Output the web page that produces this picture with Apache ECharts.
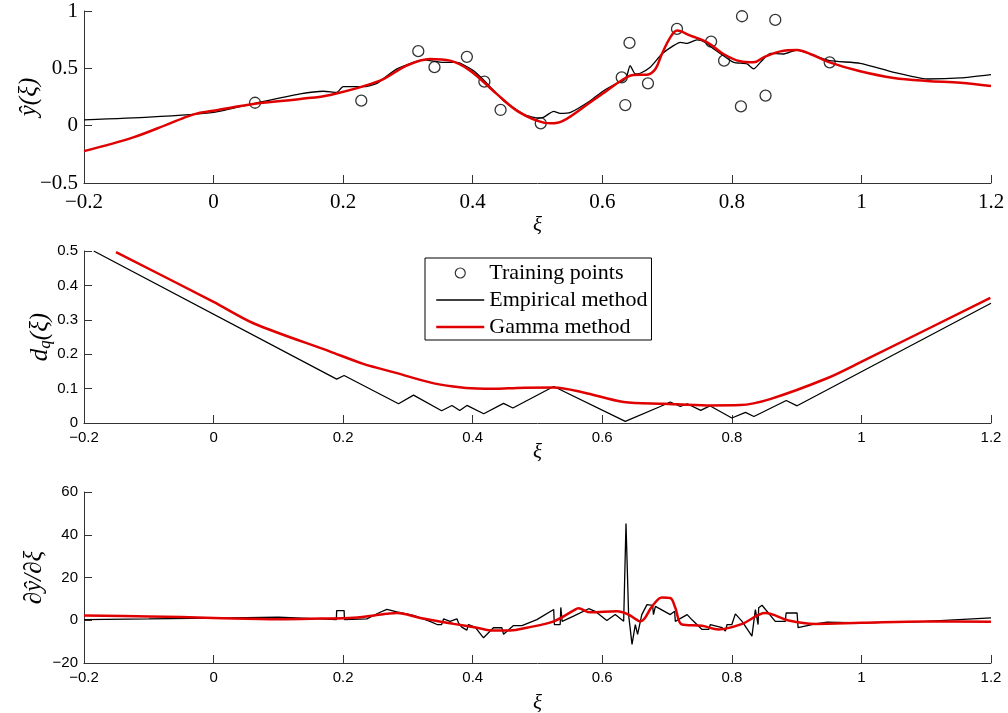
<!DOCTYPE html>
<html><head><meta charset="utf-8">
<script src="https://cdn.jsdelivr.net/npm/echarts@6/dist/echarts.min.js"></script>
<style>html,body{margin:0;padding:0;background:#fff}#c{width:1008px;height:713px}</style>
</head><body><div id="c"></div>
<script>
// ---- data ----
const xRange = [-0.2, 1.2];
const xInterval = 0.2;
const yRangeTop = [-0.5, 1];
const yRangeMid = [0, 0.5];
const yRangeBot = [-20, 60];

const trainingPoints = [
  [0.064,0.20],[0.228,0.218],[0.316,0.65],[0.341,0.51],[0.391,0.60],[0.418,0.384],
  [0.443,0.137],[0.505,0.02],[0.630,0.421],[0.642,0.722],[0.6355,0.18],[0.6705,0.369],
  [0.7153,0.844],[0.768,0.733],[0.788,0.567],[0.8157,0.954],[0.814,0.168],[0.852,0.262],
  [0.867,0.922],[0.951,0.552]
];

const empiricalY = [
  [-0.2,0.05],[-0.1,0.074],[0,0.116],[0.064,0.195],[0.1336,0.277],[0.17,0.30],[0.19,0.29],
  [0.2,0.34],[0.231,0.34],[0.252,0.369],[0.283,0.495],[0.324,0.573],[0.355,0.552],[0.3756,0.552],
  [0.401,0.48],[0.422,0.369],[0.4476,0.218],[0.478,0.102],[0.499,0.067],[0.509,0.072],[0.525,0.125],
  [0.535,0.107],[0.551,0.116],[0.5815,0.218],[0.602,0.305],[0.6227,0.369],[0.633,0.393],[0.638,0.436],
  [0.643,0.524],[0.651,0.451],[0.6587,0.457],[0.674,0.509],[0.692,0.625],[0.710,0.698],[0.7205,0.727],
  [0.731,0.718],[0.746,0.748],[0.759,0.727],[0.772,0.669],[0.787,0.611],[0.803,0.552],[0.8235,0.538],
  [0.8337,0.495],[0.844,0.552],[0.8595,0.631],[0.880,0.625],[0.9007,0.66],[0.921,0.625],[0.951,0.567],
  [0.998,0.544],[1.05,0.465],[1.1015,0.407],[1.153,0.416],[1.2,0.445]
];

const gammaY = [
  [-0.2,-0.222],[-0.124,-0.102],[-0.072,0.009],[-0.041,0.079],[-0.021,0.113],[0,0.131],[0.064,0.192],
  [0.134,0.233],[0.18,0.268],[0.257,0.393],[0.298,0.524],[0.334,0.582],[0.365,0.567],[0.396,0.48],
  [0.437,0.277],[0.468,0.131],[0.499,0.044],[0.52,0.02],[0.54,0.044],[0.5815,0.205],[0.607,0.305],
  [0.633,0.407],[0.648,0.442],[0.669,0.445],[0.682,0.495],[0.692,0.625],[0.705,0.77],[0.7155,0.829],
  [0.736,0.785],[0.762,0.727],[0.787,0.625],[0.813,0.561],[0.8337,0.552],[0.849,0.596],[0.875,0.648],
  [0.9007,0.66],[0.921,0.625],[0.951,0.552],[0.998,0.474],[1.05,0.416],[1.1015,0.39],[1.153,0.375],
  [1.2,0.346]
];

const empiricalD = [
  [-0.185,0.5],[0.19,0.1275],[0.2015,0.138],[0.2855,0.056],[0.3086,0.081],[0.352,0.0357],[0.368,0.051],
  [0.380,0.0365],[0.391,0.051],[0.417,0.027],[0.4476,0.057],[0.462,0.0435],[0.525,0.106],[0.6355,0.0047],
  [0.6896,0.048],[0.705,0.061],[0.7205,0.048],[0.731,0.056],[0.752,0.0366],[0.766,0.050],[0.800,0.0145],
  [0.821,0.031],[0.834,0.019],[0.884,0.0655],[0.9007,0.050],[1.2,0.348]
];

const gammaD = [
  [-0.1506,0.497],[0,0.352],[0.0615,0.29],[0.18,0.2075],[0.231,0.172],[0.283,0.145],[0.334,0.118],
  [0.37,0.106],[0.406,0.100],[0.437,0.0995],[0.468,0.102],[0.525,0.103],[0.571,0.0888],[0.633,0.061],
  [0.695,0.056],[0.7617,0.051],[0.813,0.052],[0.859,0.0695],[0.947,0.130],[0.998,0.176],[1.199,0.364]
];

const empiricalDeriv = [
  [-0.2,0.3],[-0.1,0.6],[0,1.0],[0.1,1.5],[0.1645,0.65],[0.1895,0.3],[0.19,4.5],[0.2015,4.5],[0.202,0.3],
  [0.2366,0.65],[0.2546,3.4],[0.2675,5.1],[0.283,3.9],[0.3086,2.3],[0.334,-0.5],[0.345,-2.0],[0.352,-2.0],
  [0.355,0.6],[0.365,-0.5],[0.3756,0.65],[0.378,-1.2],[0.383,-3.2],[0.391,-4.6],[0.3935,-2.0],[0.404,-3.3],
  [0.4167,-8.2],[0.432,-3.5],[0.445,-3.5],[0.4476,-6.6],[0.463,-2.5],[0.476,-2.5],[0.499,0.3],[0.525,5.0],
  [0.526,-2.0],[0.535,-2.0],[0.536,6.0],[0.538,-0.5],[0.5557,1.9],[0.579,5.4],[0.589,4.2],[0.607,-0.1],
  [0.620,2.65],[0.633,-0.5],[0.6366,45.3],[0.6406,2.65],[0.6459,-11.3],[0.651,-2.0],[0.6545,-6.6],
  [0.661,2.65],[0.669,7.3],[0.6777,7.0],[0.679,2.65],[0.682,6.5],[0.705,2.65],[0.7117,4.2],[0.7127,-0.5],
  [0.731,2.65],[0.7385,0.2],[0.754,-4.3],[0.7642,-4.3],[0.7668,-2.0],[0.785,-3.5],[0.790,-5.1],
  [0.7926,-2.0],[0.800,-2.0],[0.8054,3.0],[0.8158,-0.5],[0.831,-7.4],[0.8363,5.0],[0.8405,-2.0],
  [0.8414,5.8],[0.8466,7.0],[0.867,-0.5],[0.8826,-0.5],[0.8837,3.4],[0.9007,3.4],[0.9022,-3.5],
  [0.929,-1.7],[0.947,-0.9],[0.998,-1.2],[1.1,-0.5],[1.2,1.1]
];

const gammaDeriv = [
  [-0.2,2.2],[-0.1,1.8],[0,1.1],[0.1,0.5],[0.1645,0.8],[0.216,1.2],[0.2675,3.0],[0.283,3.4],[0.3189,1.1],
  [0.3705,-1.7],[0.4065,-3.5],[0.432,-4.8],[0.4578,-4.8],[0.4836,-3.5],[0.525,-0.5],[0.556,4.6],
  [0.563,5.6],[0.5815,3.7],[0.6227,4.2],[0.6406,2.65],[0.659,-0.5],[0.677,6.5],[0.692,10.7],[0.705,10.4],
  [0.7127,5.8],[0.723,-2.0],[0.754,-2.6],[0.7796,-4.3],[0.8158,-1.7],[0.8517,3.4],[0.8877,-0.1],
  [0.929,-1.7],[1.0,-1.2],[1.1,-0.6],[1.2,-0.7]
];

// ---- chart ----
const chart = echarts.init(document.getElementById('c'), null, {renderer: 'canvas'});
const SERIF = '"Liberation Serif", "Times New Roman", serif';
const SANS = '"Liberation Sans", Arial, Helvetica, sans-serif';
const AXC = '#333';
const fmt = v => String(Math.round(v * 1000) / 1000).replace('-', '\u2212');
const NAME_SIZE = 25;

function xAx(gi, font, size, margin, gap) {
  return {
    type: 'value', gridIndex: gi, min: xRange[0], max: xRange[1], interval: xInterval,
    axisLine: {show: true, onZero: false, lineStyle: {color: AXC, width: 1}},
    axisTick: {show: true, inside: true, length: 8, lineStyle: {color: AXC}},
    splitLine: {show: false},
    axisLabel: {formatter: fmt, fontFamily: font, fontSize: size, color: '#000', margin: margin},
    name: 'ξ', nameLocation: 'middle', nameGap: gap, nameMoveOverlap: false,
    nameTextStyle: {fontFamily: SERIF, fontStyle: 'italic', fontSize: 21, color: '#000'}
  };
}
function yAx(gi, range, interval, font, size, name, gap, rich) {
  return {
    type: 'value', gridIndex: gi, min: range[0], max: range[1], interval: interval,
    axisLine: {show: true, onZero: false, lineStyle: {color: AXC, width: 1}},
    axisTick: {show: true, inside: true, length: 8, lineStyle: {color: AXC}},
    splitLine: {show: false},
    axisLabel: {formatter: fmt, fontFamily: font, fontSize: size, color: '#000', margin: 6},
    name: name, nameLocation: 'middle', nameGap: gap, nameRotate: 90, nameMoveOverlap: false,
    nameTextStyle: Object.assign({fontFamily: SERIF, fontStyle: 'italic', fontSize: NAME_SIZE, color: '#000'}, rich ? {rich: rich} : {})
  };
}

const option = {
  backgroundColor: '#fff',
  animation: false,
  grid: [
    {left: 84, width: 907, top: 11, height: 172, outerBoundsMode: 'none', containLabel: false},
    {left: 84, width: 907, top: 251, height: 172, outerBoundsMode: 'none', containLabel: false},
    {left: 84, width: 907, top: 492, height: 171, outerBoundsMode: 'none', containLabel: false}
  ],
  xAxis: [
    xAx(0, SERIF, 21, 9, 32),
    xAx(1, SANS, 15, 7, 19),
    xAx(2, SANS, 15, 7, 30)
  ],
  yAxis: [
    yAx(0, yRangeTop, 0.5, SERIF, 21, 'ŷ(ξ)', 42),
    yAx(1, yRangeMid, 0.1, SANS, 15, '{i|d}{s|q}{i|(ξ)}', 30, {
      i: {fontFamily: SERIF, fontStyle: 'italic', fontSize: NAME_SIZE, color: '#000'},
      s: {fontFamily: SERIF, fontStyle: 'italic', fontSize: 17, color: '#000', verticalAlign: 'bottom', padding: [10, 0, 0, 0]}
    }),
    yAx(2, yRangeBot, 20, SANS, 15, '∂ŷ/∂ξ', 37)
  ],
  legend: {
    left: 425, top: 258, orient: 'vertical',
    itemWidth: 48, itemHeight: 10, itemGap: 5,
    padding: [4, 4, 2, 10],
    borderColor: '#000', borderWidth: 1, backgroundColor: '#fff',
    selectedMode: false,
    textStyle: {fontFamily: SERIF, fontSize: 22, color: '#000', lineHeight: 22},
    data: [
      {name: 'Training points', icon: 'circle', itemStyle: {color: 'rgba(0,0,0,0)', borderColor: '#000', borderWidth: 1.2}},
      {name: 'Empirical method', itemStyle: {color: 'rgba(0,0,0,0)', borderWidth: 0, opacity: 0}, lineStyle: {color: '#000', width: 1.3, opacity: 1}},
      {name: 'Gamma method', itemStyle: {color: 'rgba(0,0,0,0)', borderWidth: 0, opacity: 0}, lineStyle: {color: '#e00000', width: 2.5, opacity: 1}}
    ]
  },
  series: [
    {name: 'Training points', type: 'scatter', xAxisIndex: 0, yAxisIndex: 0, data: trainingPoints,
     symbol: 'circle', symbolSize: 11, z: 3,
     itemStyle: {color: 'rgba(0,0,0,0)', borderColor: '#000', borderWidth: 1.3}},
    {name: 'Empirical method', type: 'line', xAxisIndex: 0, yAxisIndex: 0, data: empiricalY,
     symbol: 'none', smooth: 0.2, lineStyle: {color: '#000', width: 1.3}, itemStyle: {color: '#000'}, z: 4},
    {name: 'Gamma method', type: 'line', xAxisIndex: 0, yAxisIndex: 0, data: gammaY,
     symbol: 'none', smooth: 0.35, lineStyle: {color: '#e00000', width: 2.5}, itemStyle: {color: '#e00000'}, z: 5},
    {name: 'Empirical method', type: 'line', xAxisIndex: 1, yAxisIndex: 1, data: empiricalD,
     symbol: 'none', lineStyle: {color: '#000', width: 1.3}, itemStyle: {color: '#000'}, z: 4},
    {name: 'Gamma method', type: 'line', xAxisIndex: 1, yAxisIndex: 1, data: gammaD,
     symbol: 'none', smooth: 0.3, lineStyle: {color: '#e00000', width: 2.5}, itemStyle: {color: '#e00000'}, z: 5},
    {name: 'Empirical method', type: 'line', xAxisIndex: 2, yAxisIndex: 2, data: empiricalDeriv,
     symbol: 'none', lineStyle: {color: '#000', width: 1.3}, itemStyle: {color: '#000'}, z: 4},
    {name: 'Gamma method', type: 'line', xAxisIndex: 2, yAxisIndex: 2, data: gammaDeriv,
     symbol: 'none', smooth: 0.35, lineStyle: {color: '#e00000', width: 2.5}, itemStyle: {color: '#e00000'}, z: 5}
  ]
};
chart.setOption(option);
</script>
</body></html>
